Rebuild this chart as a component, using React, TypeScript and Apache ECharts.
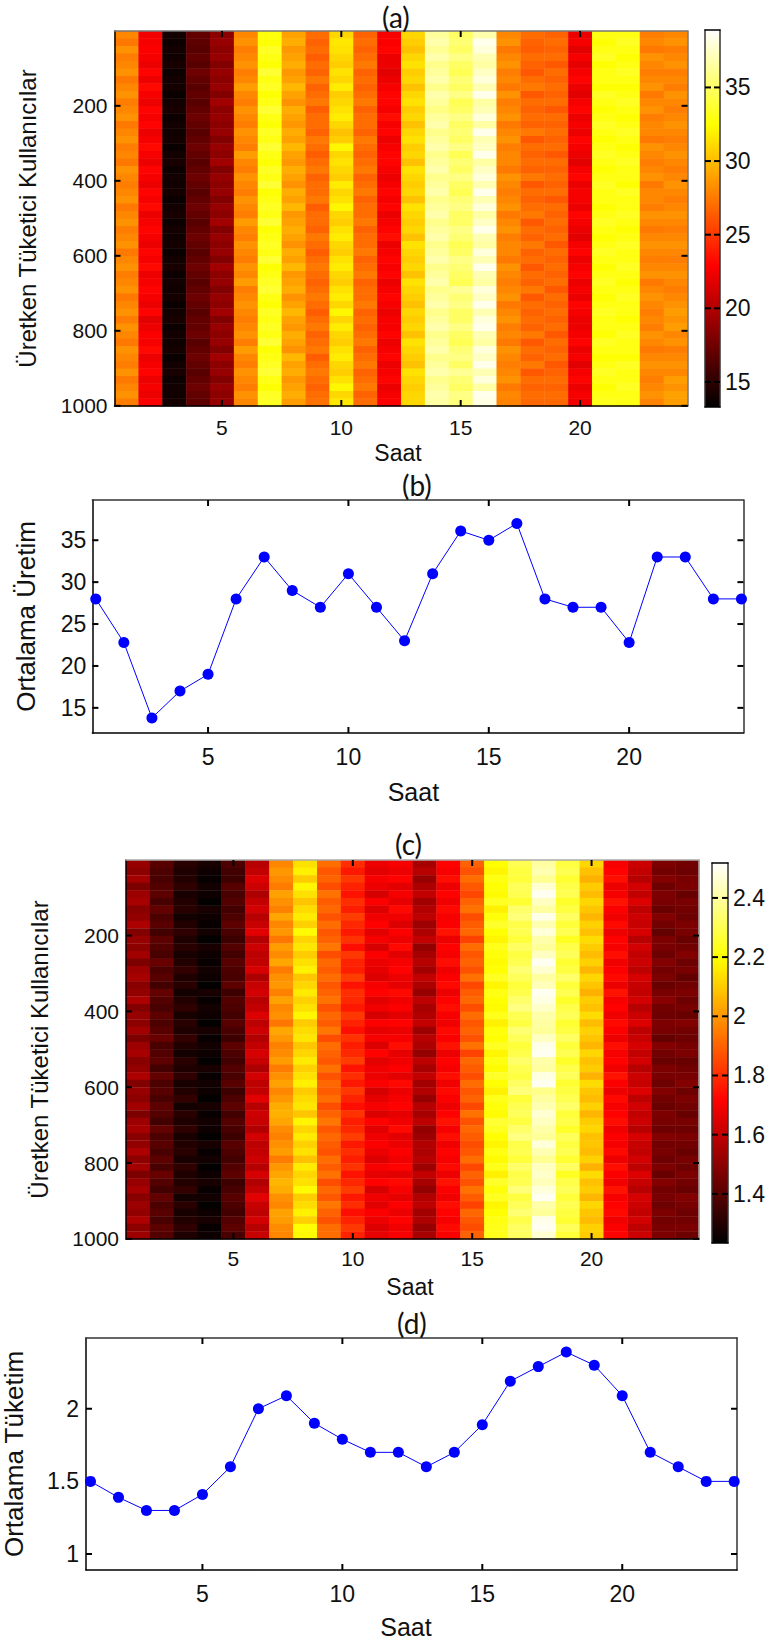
import React, { useEffect, useRef } from "react";
import * as echarts from "echarts";

const hours = [1,2,3,4,5,6,7,8,9,10,11,12,13,14,15,16,17,18,19,20,21,22,23,24];
const hourTicks = [5,10,15,20];
const userTicks = [200,400,600,800,1000];
const productionTicks = [15,20,25,30,35];
const consumptionTicks = [1,1.5,2];
const consumptionBarTicks = [1.4,1.6,1.8,2,2.2,2.4];

const meanProduction = [28,22.8,13.8,17,19,28,33,29,27,31,27,23,31,36.1,35,37,28,27,27,22.8,33,33,28,28];
const meanConsumption = [1.5,1.39,1.3,1.3,1.41,1.6,2,2.09,1.9,1.79,1.7,1.7,1.6,1.7,1.89,2.19,2.29,2.39,2.3,2.09,1.7,1.6,1.5,1.5];

const productionClim = [13.3,38.9];
const consumptionClim = [1.234,2.518];
const hotStops = ["#000000","#550000","#aa0000","#ff0000","#ff5500","#ffaa00","#ffff00","#ffff80","#ffffff"];

const productionRows = [
[28,22.4,14,17,18.6,28,32.8,29,27,31,26.6,22.6,31,36.4,35,36.8,28,27,26.6,22.2,33,33,27.6,28],
[27.4,22.6,13.8,16.8,19,28.4,32.6,29.4,26.6,31.6,27,22.8,30.6,36.8,35.4,38.4,28.4,26.6,27,22.6,32.6,33.4,28,28.4],
[28.4,22.8,14,16.6,18.6,27.6,33.4,28.6,27,31.4,26.6,23,30.2,36.2,35,38,27.4,26.4,26.6,21.8,33,33,27.4,27.6],
[27.6,22.6,13.9,17,19,28,33,29,26.4,31,27,22.2,31,36.8,35.8,37,28,27,27,22.6,33.4,32.6,28.4,28],
[28,22.2,14.2,16.6,18.2,28.4,32.6,29.4,27,30.6,27.4,22.2,31.4,36,35,36.6,28.4,26.6,26.2,22,32.6,33,28,28.4],
[28.4,23,13.8,17.4,19,27.6,33.8,28.6,26.6,31.4,26.6,21.8,30.6,36.4,34.6,37.4,27.6,26.2,27,22.6,33,33.4,27.6,27.6],
[27.4,22.2,14,17,18.6,28,33,29,27.4,31,27,22.2,31,36.8,35.4,38,28,27,26.6,23,33,33,28,28],
[28,23.2,14.1,16.6,19,28.8,33.4,29.8,26.6,31.8,26.6,22.6,30.2,36,35,37,27.4,27.4,27,22.2,32.6,32.6,28.4,27.6],
[28.4,22.6,13.7,17,18.2,28,32.6,29,27,30.6,27,23,31,36.8,35.8,38.4,28.4,26.2,26.6,21.8,33.4,33,27.4,28.4],
[27.6,22.2,14,16.6,19.4,27.6,33,28.4,27.4,31,27.4,23,31.4,36.4,34.6,36.6,27.6,27,27,22.6,33,33.4,28,28],
[28,23,14.2,17,18.6,28.4,33.8,29.4,26.4,31.4,26.6,22.6,30.6,35.8,35,37,28,26.6,26.2,23,32.6,33,28.4,27.6],
[28.4,22.6,13.8,17.4,19,28,33,29,27,31.8,27,23.4,31,36.4,35.8,38,28.4,27,27,22.2,33,32.6,27.6,28],
[27.4,23,14,17,18.6,27.6,32.6,28.6,27,31,27,22.6,30.2,36.8,35,36.6,27.4,26.6,26.6,22.6,33.4,33,28,28.4],
[28,22.2,13.9,16.6,19,28.4,33.4,29.4,26.6,30.2,26.6,23,31,36,35.4,38.4,28,27.4,27,22.2,33,33.4,28,28],
[28.4,22.6,14.1,17,18.2,28,33,29,27.4,30.6,27.4,22.2,31.4,36.4,35,37,28.4,26.2,26.6,23,32.6,33,27.4,27.6],
[27.6,23.2,13.7,17.4,19,27.6,33.8,29.8,27,32.2,27,22.6,30.6,36.8,35.8,37.4,27.6,27,27,22.6,33,32.6,28.4,28],
[28,22.6,14,17,18.6,28.8,33,29,26.4,31,26.6,23,31,36,34.6,38.4,28,26.6,26.2,22.2,33.4,33,28,28.4],
[27.4,22.2,14.2,16.6,19.4,28,32.6,28.6,27,31.4,27,23,30.2,36.4,35.4,36.6,28,27,27,21.8,33,33.4,27.6,28],
[28.4,23,13.8,17,18.2,27.6,33.4,29.4,27.4,31,27.4,22.6,31.4,36.8,35,37.4,27.4,26.6,26.6,22.6,32.6,33,28,27.6],
[28,22.6,14,17.4,19,28.4,33,29,26.6,30.6,26.6,22.2,31,36,35.8,38,28.4,27.4,27,23,33,33,28.4,28],
[27.6,22.2,13.9,17,18.6,28,33.8,28.4,27,31.8,27,22.6,30.6,36.4,35,37,28,26.2,26.6,22.2,33.4,32.6,27.4,28.4],
[28,23,14.1,16.6,19,27.6,32.6,29.4,27,31,27.4,23,31,36.8,34.6,38.4,27.6,27,27,22.6,33,33.4,28,28],
[28.4,22.6,13.7,17,18.2,28.4,33,29,27.4,31.4,26.6,22.6,30.2,36,35.4,37,28,26.6,26.2,22.6,33,33,28,27.6],
[27.4,23.2,14,17.4,19,28,33.4,29.8,26.4,32.2,27,23,31.4,36.4,35.8,38,28.4,27,27,22.2,32.6,33,27.6,28],
[28,22.2,14.2,17,18.6,27.6,33,28.6,27,31,27,22.2,31,36.8,35,36.6,27.4,27.4,26.6,23,33,33.4,28.4,28.4],
[28.4,22.6,13.8,16.6,19.4,28.8,33.8,29,27,30.6,27.4,22.6,30.6,36,35,37.4,28,26.2,27,22.6,33.4,33,28,28],
[27.6,23,14,17,18.2,28,32.6,29.4,26.6,31.4,26.6,23,31,36.4,35.8,38.4,28.4,27,26.6,22.2,33,32.6,27.4,27.6],
[28,22.6,13.9,17.4,19,27.6,33,29,27.4,31.8,27,23.4,30.2,36.8,35.4,37,27.6,26.6,27,21.8,32.6,33,28,28],
[28.4,22.2,14.1,17,18.6,28.4,33.4,28.4,27,31,27,22.2,31.4,36,34.6,36.6,28,27.4,26.2,22.6,33,33.4,28.4,28.4],
[27.4,23,13.7,16.6,19,28,33,29.4,26.4,30.6,27.4,22.6,31,36.4,35,38,28,26.6,27,23,33.4,33,28,28],
[28,22.6,14,17,18.2,27.6,33.8,29,27,31.4,26.6,23,30.6,36.8,35.8,37,27.4,27,26.6,22.2,33,33,27.6,27.6],
[28.4,23.2,14.2,17.4,19.4,28.4,32.6,29.8,27.4,31.8,27,22.6,31,36,35.4,38.4,28.4,26.2,27,22.6,32.6,33.4,28,28],
[27.6,22.2,13.8,17,18.6,28,33,28.6,27,31,27.4,23,30.2,36.4,35,37,28,27,26.6,23,33,33,28.4,28.4],
[28,22.6,14,16.6,19,28.8,33.4,29,26.6,30.6,26.6,22.2,31.4,36.8,34.6,36.6,27.6,26.6,27,22.2,33.4,32.6,27.4,28],
[28.4,23,13.9,17,18.2,27.6,33.8,29.4,27,31.4,27,22.6,31,36,36.2,38,28,27.4,26.2,22.6,33,33,28,27.6],
[27.4,22.6,14.1,17.4,19,28,33,28.4,27.4,31.8,27,23,30.6,36.4,35.4,37.4,28.4,26.2,27,22.2,32.6,33.4,28.4,28],
[28,22.2,13.7,17,18.6,28.4,32.6,29,27,31,27.4,22.6,30.2,36.8,35.8,38.4,27.4,27,26.6,23,33,33,28,28.4],
[28.4,23,14,16.6,19.4,28,33.4,29.8,26.4,32.2,26.6,22.2,31,36,35,37,28,26.6,27,22.6,33.4,33,27.6,28.8],
[27.6,21.8,14.2,17,18.2,27.6,33,29,27,31,27,22.6,30.6,36.4,35,38,28.4,27,26.6,22.2,33,32.6,28,28.4],
[28.4,22.2,13.8,17,19,28,33.4,28.6,27.4,31.8,26.6,22.6,31,36.8,35.8,38.4,27.6,26.6,27,22.2,33,33,27.6,28.8],
[28,22.8,14,17.4,18.6,28.4,33,29.4,26.6,31,27,23,30.2,36,35,37,28,27.4,26.2,22.6,32.6,33.4,28.4,28],
[27.4,22.6,13.9,16.6,19,27.6,33.8,29,27,30.6,27.4,22.2,31.4,36.4,34.6,36.6,27.4,26.2,27,23,33.4,33,28,28.4],
[28.4,23.2,14.1,17,18.2,28.8,32.6,28.4,27.4,31.4,26.6,22.6,31,36.8,35.4,38,28.4,27,26.6,22.2,33,33,27.4,27.6],
[28,22.2,13.7,17.4,19.4,28,33,29.8,26.4,31.8,27,23,30.6,36,35.8,37.4,28,26.6,27,22.6,32.6,32.6,28,28],
[27.6,22.6,14,17,18.6,27.6,33.4,29,27,31,27.4,22.2,30.2,36.4,35,38.4,27.6,27.4,26.2,21.8,33,33.4,28.4,28.4],
[28.4,23,14.2,16.6,19,28.4,33.8,29.4,27.4,30.6,26.6,22.6,31.4,36.8,36.2,37,28,26.2,26.6,22.6,33.4,33,28,28],
[27.4,22.2,13.8,17,18.2,28,33,28.6,27,31.4,27,23,31,36,35.4,38,28.4,27,27,23,33,33,27.6,28.8],
[28,22.6,14,17.4,19,27.6,32.6,29,26.6,32.2,27.4,22.2,30.6,36.4,35,36.6,27.4,26.6,26.6,22.2,32.6,33.4,28,28.4],
[28.4,22.2,13.9,17,18.6,28.4,33.4,29.4,27,31,26.6,22.6,31,36.8,35.8,38.4,28,27,27,22.6,33,33,28.4,29],
[27.6,22.8,14.1,16.8,19,28,33.4,28.8,27.2,31.6,27,22.8,31,36.6,35.6,38.2,27.8,26.8,26.8,22.4,33.2,33,27.8,28.8],
];

const consumptionRows = [
[1.52,1.4,1.31,1.28,1.38,1.58,1.97,2.14,1.92,1.8,1.68,1.7,1.55,1.72,1.9,2.2,2.3,2.4,2.28,2.12,1.7,1.62,1.47,1.45],
[1.5,1.38,1.29,1.26,1.36,1.6,2,2.17,1.88,1.76,1.66,1.68,1.58,1.7,1.87,2.18,2.28,2.42,2.3,2.08,1.72,1.6,1.45,1.44],
[1.54,1.37,1.3,1.25,1.35,1.65,1.98,2.1,1.9,1.82,1.7,1.72,1.52,1.74,1.92,2.22,2.27,2.38,2.26,2.05,1.74,1.58,1.48,1.46],
[1.47,1.39,1.32,1.27,1.4,1.62,1.95,2.18,1.86,1.78,1.68,1.66,1.56,1.68,1.88,2.2,2.31,2.46,2.29,2.1,1.68,1.63,1.44,1.47],
[1.53,1.41,1.28,1.26,1.37,1.56,2.02,2.14,1.93,1.75,1.64,1.7,1.6,1.72,1.85,2.19,2.3,2.5,2.3,2.07,1.7,1.6,1.47,1.43],
[1.55,1.37,1.3,1.24,1.39,1.6,1.99,2.09,1.89,1.8,1.71,1.67,1.54,1.69,1.9,2.24,2.26,2.44,2.25,2.12,1.75,1.65,1.46,1.46],
[1.49,1.42,1.31,1.28,1.36,1.63,1.96,2.13,1.91,1.77,1.65,1.73,1.57,1.73,1.93,2.17,2.33,2.4,2.28,2.09,1.71,1.59,1.43,1.45],
[1.51,1.38,1.27,1.26,1.38,1.58,2.03,2.16,1.87,1.83,1.69,1.69,1.59,1.7,1.86,2.21,2.35,2.49,2.32,2.06,1.69,1.62,1.48,1.44],
[1.56,1.4,1.3,1.25,1.41,1.61,1.97,2.11,1.92,1.79,1.72,1.65,1.53,1.71,1.89,2.25,2.29,2.42,2.27,2.11,1.73,1.61,1.45,1.47],
[1.48,1.36,1.32,1.27,1.37,1.66,2,2.19,1.88,1.76,1.66,1.71,1.56,1.75,1.91,2.2,2.3,2.47,2.3,2.08,1.68,1.64,1.42,1.46],
[1.52,1.41,1.29,1.24,1.35,1.57,1.94,2.12,1.9,1.81,1.7,1.68,1.6,1.68,1.84,2.18,2.27,2.41,2.24,2.13,1.72,1.58,1.47,1.43],
[1.5,1.39,1.31,1.28,1.39,1.62,2.01,2.15,1.94,1.74,1.64,1.73,1.51,1.72,1.92,2.23,2.32,2.39,2.29,2.1,1.7,1.63,1.46,1.45],
[1.54,1.37,1.28,1.26,1.36,1.59,1.98,2.1,1.86,1.82,1.71,1.66,1.55,1.7,1.88,2.21,2.28,2.44,2.31,2.07,1.74,1.6,1.44,1.48],
[1.47,1.43,1.3,1.25,1.4,1.6,2.03,2.14,1.91,1.78,1.68,1.7,1.58,1.74,1.9,2.19,2.3,2.5,2.26,2.11,1.69,1.62,1.48,1.44],
[1.53,1.38,1.33,1.27,1.38,1.64,1.95,2.17,1.89,1.77,1.67,1.72,1.54,1.69,1.87,2.2,2.34,2.46,2.28,2.06,1.71,1.59,1.45,1.46],
[1.55,1.4,1.29,1.26,1.37,1.56,1.99,2.09,1.92,1.83,1.65,1.68,1.6,1.71,1.93,2.24,2.31,2.4,2.33,2.12,1.73,1.64,1.47,1.42],
[1.49,1.36,1.31,1.24,1.41,1.61,2,2.12,1.88,1.75,1.7,1.67,1.56,1.73,1.85,2.18,2.27,2.43,2.27,2.09,1.68,1.61,1.43,1.45],
[1.51,1.42,1.27,1.28,1.35,1.63,1.96,2.16,1.9,1.8,1.72,1.73,1.52,1.68,1.89,2.22,2.29,2.5,2.3,2.05,1.75,1.6,1.46,1.47],
[1.56,1.39,1.3,1.25,1.39,1.58,2.02,2.11,1.93,1.79,1.66,1.69,1.59,1.72,1.91,2.2,2.33,2.48,2.25,2.1,1.7,1.63,1.49,1.44],
[1.48,1.37,1.32,1.27,1.38,1.6,1.97,2.14,1.87,1.76,1.69,1.71,1.55,1.74,1.86,2.19,2.36,2.45,2.29,2.08,1.72,1.58,1.45,1.46],
[1.52,1.41,1.28,1.26,1.36,1.65,1.99,2.18,1.91,1.82,1.64,1.66,1.57,1.7,1.92,2.23,2.3,2.41,2.31,2.13,1.69,1.62,1.44,1.43],
[1.5,1.38,1.31,1.24,1.4,1.59,1.94,2.1,1.89,1.78,1.71,1.72,1.6,1.69,1.88,2.17,2.28,2.4,2.26,2.07,1.73,1.65,1.47,1.48],
[1.54,1.4,1.29,1.28,1.37,1.62,2.03,2.13,1.94,1.74,1.67,1.68,1.53,1.73,1.9,2.21,2.34,2.39,2.28,2.11,1.71,1.59,1.46,1.45],
[1.47,1.43,1.33,1.25,1.35,1.57,2,2.15,1.86,1.81,1.7,1.7,1.58,1.71,1.87,2.2,2.31,2.44,2.32,2.09,1.68,1.61,1.42,1.44],
[1.53,1.37,1.3,1.27,1.41,1.6,1.96,2.09,1.92,1.77,1.65,1.74,1.56,1.75,1.93,2.24,2.27,2.49,2.27,2.06,1.74,1.64,1.48,1.46],
[1.55,1.39,1.27,1.26,1.38,1.64,1.98,2.12,1.9,1.79,1.72,1.67,1.51,1.68,1.84,2.18,2.29,2.5,2.3,2.12,1.7,1.6,1.45,1.47],
[1.49,1.41,1.31,1.24,1.36,1.61,2.01,2.16,1.88,1.83,1.66,1.69,1.59,1.72,1.91,2.22,2.33,2.41,2.25,2.08,1.72,1.63,1.43,1.43],
[1.51,1.36,1.29,1.28,1.39,1.56,1.95,2.11,1.93,1.75,1.69,1.71,1.55,1.7,1.89,2.19,2.3,2.4,2.29,2.1,1.69,1.58,1.47,1.45],
[1.56,1.42,1.32,1.25,1.37,1.63,1.99,2.14,1.87,1.8,1.68,1.66,1.6,1.74,1.86,2.25,2.28,2.48,2.31,2.05,1.75,1.62,1.46,1.46],
[1.48,1.38,1.28,1.27,1.4,1.59,2.02,2.17,1.91,1.76,1.71,1.73,1.54,1.69,1.92,2.2,2.32,2.5,2.26,2.13,1.71,1.61,1.44,1.48],
[1.52,1.4,1.3,1.26,1.35,1.6,1.97,2.1,1.89,1.82,1.64,1.68,1.57,1.73,1.88,2.17,2.35,2.37,2.28,2.09,1.68,1.65,1.48,1.44],
[1.5,1.37,1.33,1.24,1.38,1.66,2,2.13,1.92,1.78,1.67,1.7,1.52,1.71,1.9,2.23,2.27,2.4,2.3,2.07,1.73,1.59,1.45,1.47],
[1.54,1.41,1.27,1.28,1.41,1.58,2.04,2.15,1.86,1.74,1.7,1.72,1.58,1.68,1.85,2.21,2.3,2.42,2.33,2.11,1.7,1.63,1.43,1.45],
[1.47,1.39,1.31,1.25,1.36,1.62,2.05,2.09,1.9,1.81,1.65,1.67,1.55,1.72,1.93,2.19,2.31,2.46,2.27,2.06,1.72,1.6,1.47,1.43],
[1.53,1.36,1.29,1.27,1.39,1.61,2.03,2.18,1.94,1.77,1.72,1.69,1.59,1.75,1.87,2.26,2.28,2.44,2.29,2.1,1.74,1.62,1.46,1.46],
[1.55,1.42,1.32,1.26,1.37,1.57,1.98,2.12,1.88,1.79,1.66,1.73,1.51,1.7,1.91,2.24,2.33,2.41,2.25,2.12,1.69,1.58,1.44,1.44],
[1.49,1.38,1.28,1.24,1.35,1.63,1.96,2.16,1.91,1.83,1.69,1.66,1.53,1.74,1.89,2.2,2.36,2.39,2.31,2.08,1.71,1.64,1.48,1.47],
[1.51,1.4,1.3,1.28,1.4,1.59,1.99,2.11,1.89,1.76,1.71,1.68,1.57,1.69,1.86,2.18,2.29,2.47,2.28,2.09,1.7,1.61,1.45,1.45],
[1.56,1.37,1.31,1.25,1.38,1.6,2.01,2.14,1.87,1.8,1.68,1.71,1.56,1.72,1.88,2.22,2.3,2.42,2.3,2.07,1.73,1.6,1.46,1.43],
[1.5,1.41,1.28,1.27,1.36,1.62,1.95,2.08,1.92,1.77,1.65,1.69,1.58,1.7,1.92,2.19,2.27,2.38,2.26,2.11,1.68,1.63,1.44,1.46],
[1.54,1.37,1.32,1.24,1.39,1.58,2,2.16,1.89,1.81,1.7,1.72,1.53,1.73,1.85,2.23,2.33,2.44,2.32,2.05,1.74,1.59,1.47,1.44],
[1.47,1.43,1.29,1.26,1.41,1.64,2.03,2.12,1.93,1.75,1.67,1.66,1.6,1.68,1.9,2.17,2.29,2.45,2.24,2.13,1.71,1.65,1.43,1.47],
[1.52,1.39,1.3,1.28,1.35,1.57,2.06,2.14,1.86,1.79,1.72,1.73,1.55,1.75,1.87,2.25,2.3,2.43,2.29,2.08,1.69,1.61,1.48,1.45],
[1.55,1.36,1.33,1.25,1.37,1.6,2.04,2.19,1.91,1.83,1.64,1.7,1.51,1.71,1.93,2.21,2.35,2.47,2.31,2.1,1.75,1.58,1.45,1.43],
[1.49,1.42,1.27,1.27,1.4,1.66,1.99,2.1,1.88,1.76,1.69,1.67,1.57,1.69,1.89,2.24,2.28,2.5,2.27,2.06,1.7,1.64,1.46,1.48],
[1.53,1.38,1.31,1.24,1.38,1.61,1.97,2.13,1.94,1.8,1.66,1.71,1.59,1.74,1.84,2.18,2.31,2.41,2.3,2.12,1.72,1.62,1.44,1.46],
[1.51,1.4,1.28,1.26,1.36,1.59,2.02,2.17,1.9,1.74,1.71,1.68,1.54,1.72,1.91,2.2,2.34,2.39,2.28,2.09,1.73,1.6,1.47,1.44],
[1.56,1.37,1.3,1.28,1.39,1.63,2.01,2.11,1.87,1.78,1.68,1.72,1.56,1.7,1.88,2.22,2.29,2.49,2.26,2.07,1.69,1.63,1.45,1.45],
[1.5,1.41,1.32,1.25,1.41,1.58,1.98,2.2,1.92,1.82,1.65,1.69,1.52,1.73,1.86,2.23,2.32,2.5,2.31,2.11,1.71,1.59,1.46,1.47],
[1.53,1.39,1.29,1.26,1.37,1.61,1.97,2.19,1.92,1.78,1.67,1.7,1.55,1.71,1.9,2.23,2.32,2.46,2.27,2.1,1.72,1.62,1.47,1.44],
];

const FONT = "Liberation Sans";
const TICK_LEN = 6;

function cells(rows: number[][]) {
  const span = 1000 / rows.length;
  return rows.flatMap((row, r) =>
    row.map((value, h) => [hours[h], 0.5 + r * span, 0.5 + (r + 1) * span, value])
  );
}

function renderCell(_: any, api: any) {
  const a = api.coord([api.value(0) - 0.5, api.value(1)]);
  const b = api.coord([api.value(0) + 0.5, api.value(2)]);
  return {
    type: "rect",
    shape: { x: a[0], y: a[1], width: b[0] - a[0] + 0.4, height: b[1] - a[1] + 0.4 },
    style: { fill: api.visual("color") },
  };
}

function renderBar(_: any, api: any) {
  const a = api.coord([0, api.value(1)]);
  const b = api.coord([1, api.value(0)]);
  return {
    type: "rect",
    shape: { x: a[0], y: a[1], width: b[0] - a[0], height: b[1] - a[1] },
    style: {
      fill: new echarts.graphic.LinearGradient(0, 0, 0, 1,
        hotStops.slice().reverse().map((color, i, all) => ({ offset: i / (all.length - 1), color }))),
    },
  };
}

function addTickMarks(o: any, xIndex: number, yIndex: number, xMin: number, yMin: number, xTicks: number[], yTicks: number[]) {
  const line = (x1: number, y1: number, x2: number, y2: number) => ({
    type: "line", shape: { x1, y1, x2, y2 }, style: { stroke: "#000", lineWidth: 2 },
  });
  o.series.push({
    type: "custom", xAxisIndex: xIndex, yAxisIndex: yIndex, silent: true, clip: false, z: 6,
    data: [
      ...xTicks.map((v) => [v, yMin, 0]),
      ...yTicks.map((v) => [xMin, v, 1]),
    ],
    encode: { x: 0, y: 1 },
    renderItem: (params: any, api: any) => {
      const box = params.coordSys;
      const p = api.coord([api.value(0), api.value(1)]);
      if (api.value(2) === 0) {
        return {
          type: "group",
          children: [
            line(p[0], box.y, p[0], box.y + TICK_LEN),
            line(p[0], box.y + box.height, p[0], box.y + box.height - TICK_LEN),
          ],
        };
      }
      return {
        type: "group",
        children: [
          line(box.x, p[1], box.x + TICK_LEN, p[1]),
          line(box.x + box.width, p[1], box.x + box.width - TICK_LEN, p[1]),
        ],
      };
    },
  });
}

function axisLine(color: string) {
  return { show: true, onZero: false, lineStyle: { color, width: 1.5 } };
}
function labels(values: number[], fontSize: number, margin: number) {
  return { show: true, customValues: values, fontSize, margin, color: "#111", fontFamily: FONT, hideOverlap: false, formatter: (v: number) => String(v) };
}

type Panel = {
  left: number; top: number; width: number; height: number;
  xMin: number; xMax: number; yMin: number; yMax: number; inverse: boolean;
  xTicks: number[]; yTicks: number[];
  fontSize: number; xNameSize: number; yNameSize: number; xMargin: number; yMargin: number;
  xName: string; yName: string; xGap: number; yGap: number; xShift: number;
  sideColor: string;
};

function addPanel(o: any, p: Panel) {
  const g = o.grid.length;
  o.grid.push({ left: p.left, top: p.top, width: p.width, height: p.height, containLabel: false, outerBoundsMode: "none" });
  const base = { type: "value", gridIndex: g, min: p.xMin, max: p.xMax, splitLine: { show: false }, axisTick: { show: false }, z: 5 };
  const ybase = { type: "value", gridIndex: g, min: p.yMin, max: p.yMax, inverse: p.inverse, splitLine: { show: false }, axisTick: { show: false }, z: 5 };
  const xIndex = o.xAxis.length;
  const yIndex = o.yAxis.length;
  o.xAxis.push({
    ...base, position: "bottom", axisLine: axisLine("#000"),
    axisLabel: labels(p.xTicks, p.fontSize, p.xMargin),
    name: p.xName, nameLocation: "middle", nameGap: p.xGap,
    nameTextStyle: { fontSize: p.xNameSize, fontFamily: FONT, color: "#111", padding: [0, p.xShift, 0, 0] },
  });
  o.xAxis.push({ ...base, position: "top", axisLine: axisLine(p.sideColor), axisLabel: { show: false } });
  o.yAxis.push({
    ...ybase, position: "left", axisLine: axisLine("#000"),
    axisLabel: labels(p.yTicks, p.fontSize, p.yMargin),
    name: p.yName, nameLocation: "middle", nameGap: p.yGap,
    nameTextStyle: { fontSize: p.yNameSize, fontFamily: FONT, color: "#111" },
  });
  o.yAxis.push({ ...ybase, position: "right", axisLine: axisLine(p.sideColor), axisLabel: { show: false } });
  return { xIndex, yIndex };
}

function addColorbar(o: any, box: number[], clim: number[], values: number[], fontSize: number) {
  const g = o.grid.length;
  o.grid.push({ left: box[0], top: box[1], width: box[2], height: box[3], outerBoundsMode: "none" });
  const xb = { type: "value", gridIndex: g, min: 0, max: 1, splitLine: { show: false }, axisLabel: { show: false }, axisTick: { show: false }, z: 5 };
  const yb = { type: "value", gridIndex: g, min: clim[0], max: clim[1], splitLine: { show: false }, axisTick: { show: false }, z: 5 };
  const xIndex = o.xAxis.length;
  const yIndex = o.yAxis.length;
  o.xAxis.push({ ...xb, position: "bottom", axisLine: axisLine("#000") });
  o.xAxis.push({ ...xb, position: "top", axisLine: axisLine("#000") });
  o.yAxis.push({ ...yb, position: "right", axisLine: axisLine("#333"), axisLabel: labels(values, fontSize, 5) });
  o.yAxis.push({ ...yb, position: "left", axisLine: axisLine("#333"), axisLabel: { show: false } });
  o.series.push({
    type: "custom", xAxisIndex: xIndex, yAxisIndex: yIndex, renderItem: renderBar,
    encode: { x: 2, y: [0, 1] }, data: [[clim[0], clim[1], 0]], silent: true, clip: false, z: 2,
  });
  addTickMarks(o, xIndex, yIndex, 0, clim[0], [], values);
}

function buildOption() {
  const o: any = { animation: false, backgroundColor: "#fff", grid: [], xAxis: [], yAxis: [], series: [], visualMap: [], title: [] };

  const titleAt = (text: string, x: number, y: number) =>
    o.title.push({ text, left: x, top: y, textAlign: "left", textStyle: { fontFamily: "Lato", fontWeight: "normal", fontSize: 28, color: "#111" } });
  titleAt("(a)", 377, -2);
  titleAt("(b)", 397, 466);
  titleAt("(c)", 390, 825);
  titleAt("(d)", 392, 1304);

  const a = addPanel(o, {
    left: 114.5, top: 31, width: 573, height: 375, xMin: 0.5, xMax: 24.5, yMin: 0.5, yMax: 1000.5, inverse: true,
    xTicks: hourTicks, yTicks: userTicks, fontSize: 21, xNameSize: 23, yNameSize: 24, xMargin: 11, yMargin: 7,
    xName: "Saat", yName: "Üretken Tüketici Kullanıcılar", xGap: 35, yGap: 75, xShift: 6, sideColor: "#777",
  });
  const seriesA = o.series.length;
  o.series.push({ type: "custom", xAxisIndex: a.xIndex, yAxisIndex: a.yIndex, renderItem: renderCell, encode: { x: 0, y: [1, 2] }, data: cells(productionRows), z: 2, silent: true });
  o.visualMap.push({ show: false, type: "continuous", seriesIndex: seriesA, dimension: 3, min: productionClim[0], max: productionClim[1], inRange: { color: hotStops } });
  addTickMarks(o, a.xIndex, a.yIndex, 0.5, 0.5, hourTicks, userTicks);
  addColorbar(o, [705, 30, 15, 377], productionClim, productionTicks, 23);

  const b = addPanel(o, {
    left: 92.4, top: 500, width: 651, height: 233, xMin: 0.88, xMax: 24.07, yMin: 12, yMax: 39.8, inverse: false,
    xTicks: hourTicks, yTicks: productionTicks, fontSize: 23, xNameSize: 25, yNameSize: 26, xMargin: 12, yMargin: 6,
    xName: "Saat", yName: "Ortalama Üretim", xGap: 46, yGap: 53, xShift: 9, sideColor: "#333",
  });
  addTickMarks(o, b.xIndex, b.yIndex, 0.88, 12, hourTicks, productionTicks);
  o.series.push({
    type: "line", xAxisIndex: b.xIndex, yAxisIndex: b.yIndex, clip: false, z: 7,
    data: hours.map((h, i) => [h, meanProduction[i]]),
    symbol: "circle", symbolSize: 11, lineStyle: { color: "#0000ff", width: 1 }, itemStyle: { color: "#0000ff" },
  });

  const c = addPanel(o, {
    left: 126, top: 860, width: 573, height: 379, xMin: 0.5, xMax: 24.5, yMin: 0.5, yMax: 1000.5, inverse: true,
    xTicks: hourTicks, yTicks: userTicks, fontSize: 21, xNameSize: 23, yNameSize: 24, xMargin: 9, yMargin: 7,
    xName: "Saat", yName: "Üretken Tüketici Kullanıcılar", xGap: 36, yGap: 75, xShift: 5, sideColor: "#aaa",
  });
  const seriesC = o.series.length;
  o.series.push({ type: "custom", xAxisIndex: c.xIndex, yAxisIndex: c.yIndex, renderItem: renderCell, encode: { x: 0, y: [1, 2] }, data: cells(consumptionRows), z: 2, silent: true });
  o.visualMap.push({ show: false, type: "continuous", seriesIndex: seriesC, dimension: 3, min: consumptionClim[0], max: consumptionClim[1], inRange: { color: hotStops } });
  addTickMarks(o, c.xIndex, c.yIndex, 0.5, 0.5, hourTicks, userTicks);
  addColorbar(o, [712, 863, 16, 380], consumptionClim, consumptionBarTicks, 23);

  const d = addPanel(o, {
    left: 86, top: 1338, width: 651, height: 232, xMin: 0.84, xMax: 24.1, yMin: 0.89, yMax: 2.487, inverse: false,
    xTicks: hourTicks, yTicks: consumptionTicks, fontSize: 23, xNameSize: 25, yNameSize: 26, xMargin: 12, yMargin: 7,
    xName: "Saat", yName: "Ortalama Tüketim", xGap: 44, yGap: 59, xShift: 11, sideColor: "#333",
  });
  addTickMarks(o, d.xIndex, d.yIndex, 0.84, 0.89, hourTicks, consumptionTicks);
  o.series.push({
    type: "line", xAxisIndex: d.xIndex, yAxisIndex: d.yIndex, clip: false, z: 7,
    data: hours.map((h, i) => [h, meanConsumption[i]]),
    symbol: "circle", symbolSize: 11, lineStyle: { color: "#0000ff", width: 1 }, itemStyle: { color: "#0000ff" },
  });

  return o;
}

export default function App() {
  const ref = useRef<HTMLDivElement>(null);
  useEffect(() => {
    const chart = echarts.init(ref.current!, undefined, { renderer: "svg" });
    chart.setOption(buildOption());
    return () => chart.dispose();
  }, []);
  return <div ref={ref} style={{ position: "absolute", left: 0, top: 0, width: 771, height: 1645 }} />;
}
